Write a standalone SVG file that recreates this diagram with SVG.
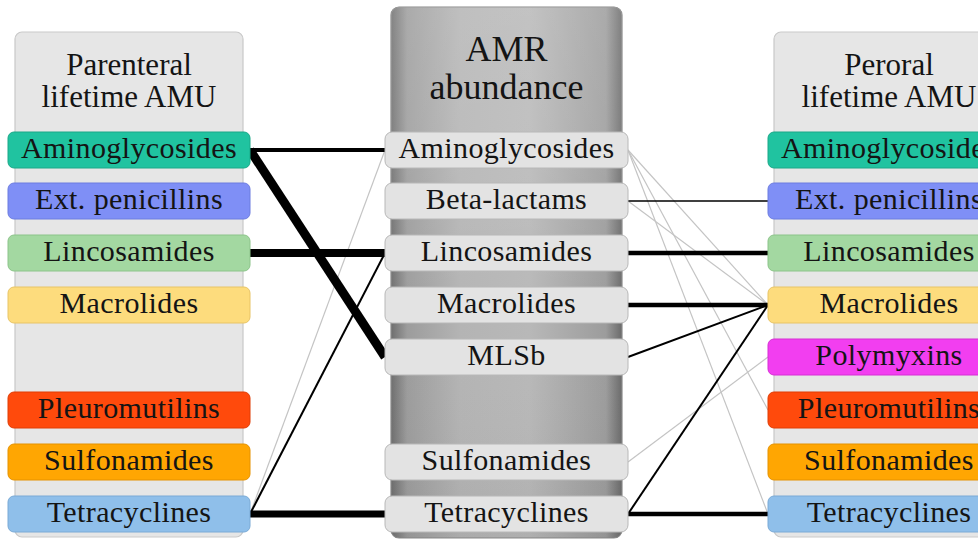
<svg xmlns="http://www.w3.org/2000/svg" width="978" height="542" viewBox="0 0 978 542">
<style>
.panel{fill:#e6e6e6;stroke:#c9c9c9;stroke-width:1.2}
.item{stroke-width:1}
.mid{fill:#e3e3e3;stroke:#b8b8b8}
text{font-family:'Liberation Serif','Noto Serif','DejaVu Serif',serif;fill:#141414;text-anchor:middle}
.lbl{font-size:30px;letter-spacing:0.4px}
.hdr{font-size:31px}
.hdr2{font-size:36px}
.k{stroke:#000;fill:none;stroke-linecap:butt}
.g{stroke:#c4c4c4;stroke-width:1.2;fill:none}
</style>
<defs>
<linearGradient id="cyl" x1="0" y1="0" x2="1" y2="0">
<stop offset="0" stop-color="#6e6e6e"/>
<stop offset="0.07" stop-color="#9c9c9c"/>
<stop offset="0.3" stop-color="#b4b4b4"/>
<stop offset="0.6" stop-color="#b8b8b8"/>
<stop offset="0.93" stop-color="#9c9c9c"/>
<stop offset="1" stop-color="#6a6a6a"/>
</linearGradient>
<linearGradient id="top" x1="0" y1="0" x2="0" y2="1">
<stop offset="0" stop-color="#ffffff" stop-opacity="0.15"/>
<stop offset="0.25" stop-color="#ffffff" stop-opacity="0.12"/>
<stop offset="0.6" stop-color="#ffffff" stop-opacity="0"/>
<stop offset="1" stop-color="#000000" stop-opacity="0.05"/>
</linearGradient>
</defs>

<g id="panel-parenteral">
<rect class="panel" x="15" y="32" width="228" height="505" rx="7"/>
<text class="hdr" x="129" y="75">Parenteral</text>
<text class="hdr" x="129" y="107">lifetime AMU</text>
</g>
<g id="panel-amr">
<rect x="391" y="7" width="231" height="531" rx="8" fill="url(#cyl)" stroke="#8a8a8a" stroke-width="1.2"/>
<rect x="391" y="7" width="231" height="531" rx="8" fill="url(#top)"/>
<text class="hdr2" x="506.5" y="61">AMR</text>
<text class="hdr2" x="506.5" y="99">abundance</text>
</g>
<g id="panel-peroral">
<rect class="panel" x="774" y="32" width="230" height="505" rx="7"/>
<text class="hdr" x="889" y="75">Peroral</text>
<text class="hdr" x="889" y="107">lifetime AMU</text>
</g>

<g id="connectors">
<line class="g" x1="250" y1="514" x2="385" y2="150"/>
<line class="k" x1="250" y1="150" x2="385" y2="150" stroke-width="4"/>
<line class="k" x1="250" y1="150" x2="385" y2="357" stroke-width="9"/>
<line class="k" x1="250" y1="253" x2="385" y2="253" stroke-width="8"/>
<line class="k" x1="250" y1="514" x2="385" y2="253" stroke-width="2"/>
<line class="k" x1="250" y1="514" x2="385" y2="514" stroke-width="7"/>
<line class="g" x1="628" y1="150" x2="768" y2="305"/>
<line class="g" x1="628" y1="150" x2="768" y2="410"/>
<line class="g" x1="628" y1="150" x2="768" y2="514"/>
<line class="g" x1="628" y1="201" x2="768" y2="305"/>
<line class="g" x1="628" y1="462" x2="768" y2="357"/>
<line class="k" x1="628" y1="201" x2="768" y2="201" stroke-width="1.5" stroke="#333"/>
<line class="k" x1="628" y1="253" x2="768" y2="253" stroke-width="4.5"/>
<line class="k" x1="628" y1="305" x2="768" y2="305" stroke-width="4.5"/>
<line class="k" x1="628" y1="357" x2="768" y2="305" stroke-width="2"/>
<line class="k" x1="628" y1="514" x2="768" y2="305" stroke-width="2"/>
<line class="k" x1="628" y1="514" x2="768" y2="514" stroke-width="4.5"/>
</g>

<g id="p-aminoglycosides"><rect class="item" x="8" y="132" width="242" height="36" rx="6" fill="#20c3a0" stroke="#1aa888"/><text class="lbl" x="129" y="158">Aminoglycosides</text></g>
<g id="p-ext-penicillins"><rect class="item" x="8" y="183" width="242" height="36" rx="6" fill="#7f8ff6" stroke="#6d7de0"/><text class="lbl" x="129" y="209">Ext. penicillins</text></g>
<g id="p-lincosamides"><rect class="item" x="8" y="235" width="242" height="36" rx="6" fill="#a3d8a1" stroke="#8cc48a"/><text class="lbl" x="129" y="261">Lincosamides</text></g>
<g id="p-macrolides"><rect class="item" x="8" y="287" width="242" height="36" rx="6" fill="#fddc7d" stroke="#e8c466"/><text class="lbl" x="129" y="313">Macrolides</text></g>
<g id="p-pleuromutilins"><rect class="item" x="8" y="392" width="242" height="36" rx="6" fill="#ff4a0c" stroke="#e03c05"/><text class="lbl" x="129" y="418">Pleuromutilins</text></g>
<g id="p-sulfonamides"><rect class="item" x="8" y="444" width="242" height="36" rx="6" fill="#ffa602" stroke="#e59200"/><text class="lbl" x="129" y="470">Sulfonamides</text></g>
<g id="p-tetracyclines"><rect class="item" x="8" y="496" width="242" height="36" rx="6" fill="#8fbfea" stroke="#7aaad6"/><text class="lbl" x="129" y="522">Tetracyclines</text></g>

<g id="m-aminoglycosides"><rect class="item mid" x="385" y="132" width="243" height="36" rx="7"/><text class="lbl" x="506.5" y="158">Aminoglycosides</text></g>
<g id="m-beta-lactams"><rect class="item mid" x="385" y="183" width="243" height="36" rx="7"/><text class="lbl" x="506.5" y="209">Beta-lactams</text></g>
<g id="m-lincosamides"><rect class="item mid" x="385" y="235" width="243" height="36" rx="7"/><text class="lbl" x="506.5" y="261">Lincosamides</text></g>
<g id="m-macrolides"><rect class="item mid" x="385" y="287" width="243" height="36" rx="7"/><text class="lbl" x="506.5" y="313">Macrolides</text></g>
<g id="m-mlsb"><rect class="item mid" x="385" y="339" width="243" height="36" rx="7"/><text class="lbl" x="506.5" y="365">MLSb</text></g>
<g id="m-sulfonamides"><rect class="item mid" x="385" y="444" width="243" height="36" rx="7"/><text class="lbl" x="506.5" y="470">Sulfonamides</text></g>
<g id="m-tetracyclines"><rect class="item mid" x="385" y="496" width="243" height="36" rx="7"/><text class="lbl" x="506.5" y="522">Tetracyclines</text></g>

<g id="r-aminoglycosides"><rect class="item" x="768" y="132" width="242" height="36" rx="6" fill="#20c3a0" stroke="#1aa888"/><text class="lbl" x="889" y="158">Aminoglycosides</text></g>
<g id="r-ext-penicillins"><rect class="item" x="768" y="183" width="242" height="36" rx="6" fill="#7f8ff6" stroke="#6d7de0"/><text class="lbl" x="889" y="209">Ext. penicillins</text></g>
<g id="r-lincosamides"><rect class="item" x="768" y="235" width="242" height="36" rx="6" fill="#a3d8a1" stroke="#8cc48a"/><text class="lbl" x="889" y="261">Lincosamides</text></g>
<g id="r-macrolides"><rect class="item" x="768" y="287" width="242" height="36" rx="6" fill="#fddc7d" stroke="#e8c466"/><text class="lbl" x="889" y="313">Macrolides</text></g>
<g id="r-polymyxins"><rect class="item" x="768" y="339" width="242" height="36" rx="6" fill="#f23ef0" stroke="#d62ed4"/><text class="lbl" x="889" y="365">Polymyxins</text></g>
<g id="r-pleuromutilins"><rect class="item" x="768" y="392" width="242" height="36" rx="6" fill="#ff4a0c" stroke="#e03c05"/><text class="lbl" x="889" y="418">Pleuromutilins</text></g>
<g id="r-sulfonamides"><rect class="item" x="768" y="444" width="242" height="36" rx="6" fill="#ffa602" stroke="#e59200"/><text class="lbl" x="889" y="470">Sulfonamides</text></g>
<g id="r-tetracyclines"><rect class="item" x="768" y="496" width="242" height="36" rx="6" fill="#8fbfea" stroke="#7aaad6"/><text class="lbl" x="889" y="522">Tetracyclines</text></g>
</svg>
